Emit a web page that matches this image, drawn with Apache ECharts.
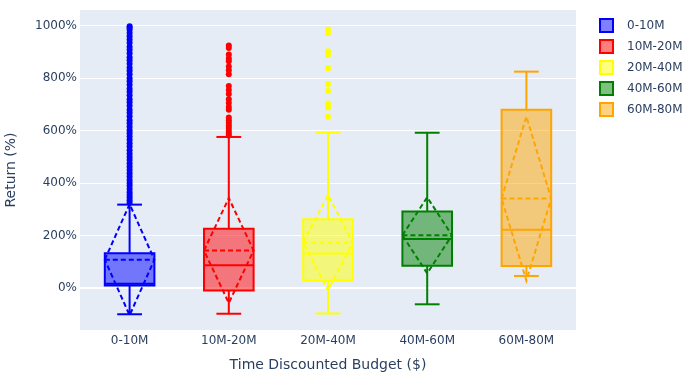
<!DOCTYPE html>
<html>
<head>
<meta charset="utf-8">
<script src="https://cdn.jsdelivr.net/npm/echarts@6/dist/echarts.min.js"></script>
<style>
  html, body { margin: 0; padding: 0; background: #fff; }
  #chart { width: 691px; height: 385px; }
</style>
</head>
<body>
<div id="chart"></div>
<script>
// budget buckets
const categories = ['0-10M', '10M-20M', '20M-40M', '40M-60M', '60M-80M']
const colors = ['#0000ff', '#ff0000', '#ffff00', '#008000', '#ffa500']
const fills = ['rgba(0,0,255,0.5)', 'rgba(255,0,0,0.5)', 'rgba(255,255,0,0.5)', 'rgba(0,128,0,0.5)', 'rgba(255,165,0,0.5)']

// box stats (return %): lower fence, q1, median, q3, upper fence
const lowerFence = [-100, -98, -97, -62, 46]
const q1 = [10, -9, 28, 85, 84]
const median = [16, 87, 132, 187, 222]
const q3 = [133, 226, 262, 292, 680]
const upperFence = [318, 576, 592, 592, 825]
const means = [108, 143, 173, 201, 341]
const stdDevs = [212, 200, 182, 145, 313]

// outlier points
const outliers0 = [325, 335, 345, 355, 365, 378, 390, 400, 412, 425, 438, 450, 462, 475, 488, 500,
  512, 525, 540, 552, 565, 578, 590, 602, 615, 628, 640, 655, 668, 680, 695, 708, 720, 735, 748,
  760, 775, 788, 800, 815, 828, 840, 855, 868, 880, 895, 908, 920, 935, 948, 960, 972, 985, 992, 998]
const outliers1 = [582, 590, 600, 610, 620, 630, 640, 650, 680, 690, 705, 720, 740, 755, 770,
  815, 830, 845, 865, 875, 890, 915, 925]
const outliers2 = [653, 688, 704, 751, 778, 838, 888, 903, 972, 986]
const outliers3 = []
const outliers4 = []
const outlierLists = [outliers0, outliers1, outliers2, outliers3, outliers4]

const yTicks = [0, 200, 400, 600, 800, 1000]

const textColor = '#2a3f5f'
const font = '"DejaVu Sans", Verdana, Arial, sans-serif'

function renderBox(params, api) {
  const idx = api.value(0)
  const band = api.size([1, 0])[0]
  const half = band * 0.25
  const cap = band * 0.125
  const cx = api.coord([idx, 0])[0]
  const py = v => api.coord([idx, v])[1]
  const lo = py(api.value(1))
  const b1 = py(api.value(2))
  const md = py(api.value(3))
  const b3 = py(api.value(4))
  const hi = py(api.value(5))
  const mean = api.value(6)
  const sd = api.value(7)
  const my = py(mean)
  const top = py(mean + sd)
  const bot = py(mean - sd)
  const stroke = colors[idx]
  const solid = { stroke: stroke, lineWidth: 2, fill: null }
  const dashed = { stroke: stroke, lineWidth: 2, fill: null, lineDash: [5, 3] }
  return {
    type: 'group',
    children: [
      { type: 'rect', shape: { x: cx - half, y: b3, width: half * 2, height: b1 - b3 }, style: { fill: fills[idx], stroke: stroke, lineWidth: 2 } },
      { type: 'line', shape: { x1: cx - half, y1: md, x2: cx + half, y2: md }, style: solid },
      { type: 'line', shape: { x1: cx, y1: b3, x2: cx, y2: hi }, style: solid },
      { type: 'line', shape: { x1: cx, y1: b1, x2: cx, y2: lo }, style: solid },
      { type: 'line', shape: { x1: cx - cap, y1: hi, x2: cx + cap, y2: hi }, style: solid },
      { type: 'line', shape: { x1: cx - cap, y1: lo, x2: cx + cap, y2: lo }, style: solid },
      { type: 'line', shape: { x1: cx - half, y1: my, x2: cx + half, y2: my }, style: dashed },
      { type: 'polygon', shape: { points: [[cx - half, my], [cx, top], [cx + half, my], [cx, bot]] }, style: dashed }
    ]
  }
}

const series = []
categories.forEach((name, i) => {
  series.push({
    name: name,
    type: 'custom',
    renderItem: renderBox,
    itemStyle: { color: colors[i] },
    encode: { x: 0, y: [1, 2, 3, 4, 5] },
    data: [[i, lowerFence[i], q1[i], median[i], q3[i], upperFence[i], means[i], stdDevs[i]]],
    z: 3
  })
  series.push({
    name: name,
    type: 'scatter',
    symbolSize: 6,
    itemStyle: { color: colors[i], opacity: 1 },
    data: outlierLists[i].map(v => [i, v]),
    z: 4
  })
})
// zero line
series[0].markLine = {
  silent: true,
  symbol: 'none',
  label: { show: false },
  lineStyle: { color: '#fff', width: 2, type: 'solid' },
  data: [{ yAxis: 0 }],
  z: 1
}

const chart = echarts.init(document.getElementById('chart'))
chart.setOption({
  animation: false,
  textStyle: { fontFamily: font },
  grid: {
    left: 80,
    right: 115,
    top: 10,
    bottom: 55,
    outerBoundsMode: 'none',
    show: true,
    backgroundColor: '#E5ECF6',
    borderWidth: 0
  },
  legend: {
    orient: 'vertical',
    left: 599,
    top: 18,
    padding: 0,
    itemWidth: 13,
    itemHeight: 13,
    itemGap: 6,
    textStyle: { color: textColor, fontSize: 12, fontFamily: font, padding: [0, 0, 0, 9] },
    data: categories.map((name, i) => ({
      name: name,
      icon: 'rect',
      itemStyle: { color: fills[i], borderColor: colors[i], borderWidth: 2 }
    }))
  },
  xAxis: {
    type: 'category',
    data: categories,
    axisLine: { show: false },
    axisTick: { show: false },
    axisLabel: { color: textColor, fontSize: 12, margin: 5, fontFamily: font },
    splitLine: { show: false },
    name: 'Time Discounted Budget ($)',
    nameLocation: 'middle',
    nameGap: 28,
    nameTextStyle: { color: textColor, fontSize: 14, fontFamily: font }
  },
  yAxis: {
    type: 'value',
    min: -160,
    max: 1060,
    interval: 40,
    axisLine: { show: false },
    axisTick: { show: false },
    axisLabel: {
      color: textColor,
      fontSize: 12,
      margin: 3,
      fontFamily: font,
      showMinLabel: false,
      showMaxLabel: false,
      formatter: v => (yTicks.indexOf(Math.round(v)) >= 0 ? Math.round(v) + '%' : '')
    },
    splitLine: {
      show: true,
      showMinLine: true,
      showMaxLine: true,
      lineStyle: { color: ['rgba(0,0,0,0)', 'rgba(0,0,0,0)', 'rgba(0,0,0,0)', 'rgba(0,0,0,0)', '#ffffff'], width: 1 }
    },
    name: 'Return (%)',
    nameLocation: 'middle',
    nameGap: 62,
    nameTextStyle: { color: textColor, fontSize: 14, fontFamily: font }
  },
  series: series
})
</script>
</body>
</html>
